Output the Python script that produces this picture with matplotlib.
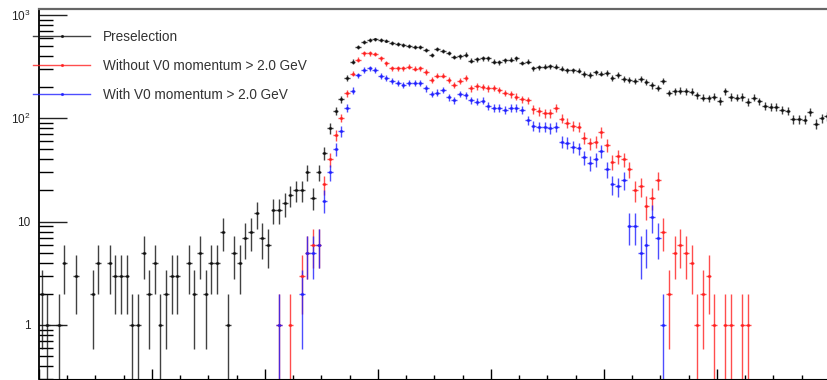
import numpy as np
import matplotlib.pyplot as plt
from matplotlib.lines import Line2D
from matplotlib.ticker import FixedLocator, FixedFormatter, LogLocator, NullFormatter, MultipleLocator

plt.rcParams['font.family'] = ['Liberation Sans', 'DejaVu Sans']
plt.rcParams['mathtext.fontset'] = 'custom'
plt.rcParams['mathtext.rm'] = 'Liberation Sans'

bin_width = 0.05
n_bins = 140

# counts per bin
preselection = [2, 1, 0, 1, 4, 0, 3, 0, 0, 2,
                4, 0, 4, 3, 3, 3, 1, 1, 5, 2,
                4, 1, 2, 3, 3, 0, 4, 2, 5, 2,
                4, 4, 8, 1, 5, 4, 7, 8, 12, 7,
                6, 13, 13, 15, 18, 20, 20, 30, 17, 30,
                46, 80, 118, 152, 245, 353, 490, 545, 568, 578,
                568, 565, 536, 528, 507, 503, 490, 485, 461, 410,
                470, 447, 426, 392, 398, 413, 361, 373, 380, 380,
                353, 347, 363, 368, 380, 343, 353, 305, 313, 316,
                318, 316, 301, 292, 290, 289, 267, 262, 279, 270,
                274, 244, 262, 241, 236, 231, 240, 226, 208, 197,
                228, 176, 183, 185, 183, 181, 168, 158, 156, 162,
                147, 183, 161, 158, 161, 144, 158, 146, 131, 128,
                128, 121, 118, 98, 98, 97, 115, 88, 100, 104]

without_v0 = [0] * 42 + [1, 0, 1, 0, 3, 5, 6, 6,
                         23, 40, 69, 101, 175, 270, 370, 425, 425, 419,
                         380, 341, 305, 305, 305, 316, 302, 305, 280, 235,
                         259, 259, 233, 212, 228, 246, 195, 203, 200, 195,
                         196, 188, 176, 170, 162, 152, 150, 122, 117, 112,
                         112, 125, 99, 90, 85, 83, 65, 57, 59, 73,
                         55, 38, 43, 40, 32, 20, 22, 14, 17, 25,
                         8, 2, 5, 6, 5, 4, 1, 2, 3, 1,
                         0, 1, 1, 0, 1, 1] + [0] * 14

with_v0 = [0] * 42 + [1, 0, 0, 0, 2, 5, 5, 6,
                      16, 30, 50, 75, 125, 185, 260, 294, 305, 294,
                      257, 244, 231, 221, 210, 221, 221, 221, 195, 172,
                      177, 188, 160, 150, 172, 168, 150, 145, 148, 131,
                      125, 125, 120, 125, 125, 120, 96, 84, 83, 82,
                      80, 82, 59, 58, 53, 51, 42, 37, 40, 48,
                      32, 23, 22, 25, 9, 9, 5, 6, 11, 7, 1] + [0] * 29

labels = ["Preselection", "Without V0 momentum > 2.0 GeV", "With V0 momentum > 2.0 GeV"]
colors = ["#111111", "#ff2020", "#2020ff"]

y_ticks = [1, 10, 100, 1000]
y_tick_labels = ["1", "10", "$10^{2}$", "$10^{3}$"]

fig = plt.figure(figsize=(8.27, 3.80), dpi=100)
ax = fig.add_axes([39 / 827, 1 / 380, 791 / 827, 370 / 380])

centers = (np.arange(n_bins) + 0.5) * bin_width

for counts, color in zip([preselection, without_v0, with_v0], colors):
    counts = np.array(counts, dtype=float)
    keep = counts > 0
    ax.errorbar(centers[keep], counts[keep], yerr=np.sqrt(counts[keep]),
                xerr=bin_width / 2, fmt='.', color=color, ms=2.5,
                lw=1, capsize=0, alpha=0.8)

ax.set_yscale('log')
ax.set_ylim(0.3, 1140)
ax.set_xlim(0, 7)

ax.yaxis.set_major_locator(FixedLocator(y_ticks))
ax.yaxis.set_major_formatter(FixedFormatter(y_tick_labels))
ax.yaxis.set_minor_locator(LogLocator(base=10, subs=np.arange(2, 10)))
ax.yaxis.set_minor_formatter(NullFormatter())
ax.tick_params(axis='y', which='major', direction='in', length=20, width=1,
               labelsize=8.5, pad=6, colors='#222222')
ax.tick_params(axis='y', which='minor', direction='in', length=10, width=1)

ax.xaxis.set_major_locator(MultipleLocator(1))
ax.xaxis.set_minor_locator(MultipleLocator(0.25))
ax.tick_params(axis='x', which='major', direction='in', length=7, width=1, labelbottom=False)
ax.tick_params(axis='x', which='minor', direction='in', length=3, width=1)

ax.spines['top'].set_color('#666666')
ax.spines['top'].set_linewidth(1.6)
ax.spines['left'].set_linewidth(1.3)
ax.spines['right'].set_visible(False)

handles = [Line2D([], [], color=c, marker='.', ms=2.5, lw=1, alpha=0.8) for c in colors]
fig.legend(handles, labels, loc='upper left', bbox_to_anchor=(33 / 827, 1 - 30 / 380),
           frameon=False, fontsize=9.8, handlelength=4.2, handletextpad=0.95,
           labelspacing=1.1, borderpad=0, borderaxespad=0, labelcolor='#333333')

fig.savefig('out.png', dpi=100)
